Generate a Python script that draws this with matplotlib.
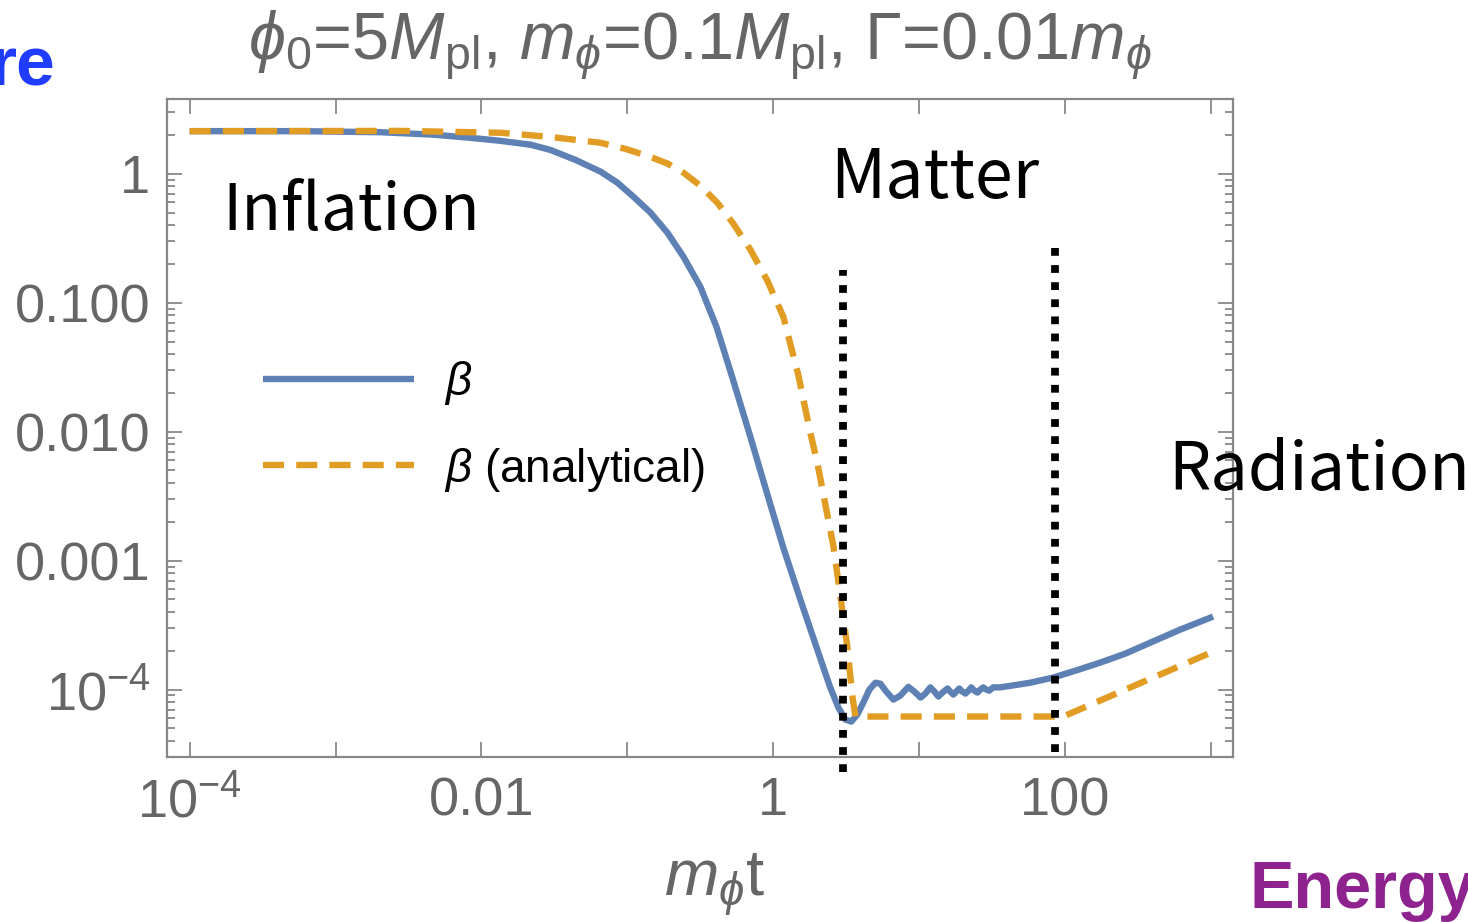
import numpy as np
import matplotlib
matplotlib.use("Agg")
from matplotlib import pyplot as plt
from matplotlib.ticker import FixedLocator, FixedFormatter, LogLocator, NullFormatter, NullLocator

plt.rcParams['font.family'] = ['Liberation Sans', 'DejaVu Sans']
plt.rcParams['mathtext.fontset'] = 'custom'
plt.rcParams['mathtext.rm'] = 'Liberation Sans'
plt.rcParams['mathtext.it'] = 'Liberation Sans:italic'
plt.rcParams['mathtext.bf'] = 'Liberation Sans:bold'

# numerical beta
t_num = [1.0e-4, 5.75e-4, 2.03e-3, 4.69e-3, 8.41e-3, 0.0135, 0.0217, 0.0297, 0.0441, 0.0653,
         0.0855, 0.110, 0.144, 0.188, 0.242, 0.316, 0.407, 0.524, 0.695, 0.910,
         1.17, 1.53, 2.00, 2.45, 2.79, 3.11, 3.42, 3.76, 4.13, 4.55,
         5.00, 5.41, 5.94, 6.64, 7.41, 8.41, 9.25, 10.2, 11.0, 11.9,
         12.7, 13.5, 14.4, 15.6, 16.3, 17.1, 17.9, 18.8, 19.7, 20.7,
         21.7, 22.7, 23.8, 25.0, 26.2, 27.4, 28.8, 30.1, 32.1, 35.9,
         57.5, 82.8, 117, 174, 258, 382, 614, 1030]
beta_num = [2.14, 2.14, 2.10, 2.01, 1.90, 1.80, 1.68, 1.53, 1.28, 1.04,
            0.852, 0.663, 0.499, 0.349, 0.227, 0.133, 0.0652, 0.0262, 9.15e-3, 3.25e-3,
            1.26e-3, 4.99e-4, 2.04e-4, 1.04e-4, 7.25e-5, 5.85e-5, 5.65e-5, 6.40e-5, 7.93e-5, 1.00e-4,
            1.13e-4, 1.11e-4, 9.64e-5, 8.36e-5, 8.98e-5, 1.05e-4, 9.64e-5, 8.67e-5, 9.31e-5, 1.04e-4,
            9.64e-5, 8.83e-5, 9.48e-5, 1.02e-4, 9.64e-5, 9.14e-5, 9.64e-5, 1.02e-4, 9.64e-5, 9.31e-5,
            9.80e-5, 1.04e-4, 9.80e-5, 9.48e-5, 1.00e-4, 1.04e-4, 1.00e-4, 9.80e-5, 1.04e-4, 1.04e-4,
            1.13e-4, 1.24e-4, 1.40e-4, 1.62e-4, 1.90e-4, 2.31e-4, 2.92e-4, 3.68e-4]

# analytical beta
t_ana = [1.0e-4, 2.8e-3, 0.0135, 0.0297, 0.0653, 0.0968, 0.144, 0.188, 0.242, 0.316,
         0.413, 0.532, 0.695, 0.910, 1.17, 1.48, 1.79, 2.00, 2.27, 2.58,
         2.88, 3.21, 3.48, 3.65, 96.8, 1030]
beta_ana = [2.14, 2.15, 2.08, 1.93, 1.74, 1.56, 1.35, 1.20, 1.02, 0.807,
            0.596, 0.410, 0.258, 0.148, 0.0778, 0.0277, 9.82e-3, 5.75e-3, 2.72e-3, 1.29e-3,
            5.26e-4, 2.15e-4, 8.83e-5, 6.18e-5, 6.18e-5, 1.97e-4]

# era boundaries
t_bounds = [3.01, 85.5]
bound_top = [0.18, 0.27]
bound_bottom = [2.3e-5, 3.3e-5]

xticks = [1e-4, 1e-3, 1e-2, 1e-1, 1, 10, 100, 1000]
xticklabels = [r'$10^{-4}$', '', '0.01', '', '1', '', '100', '']
yticks = [1e-4, 1e-3, 1e-2, 1e-1, 1]
yticklabels = [r'$10^{-4}$', '0.001', '0.010', '0.100', '1']

W, H = 1468, 922
def fp(x, y):
    return x / W, 1 - y / H

fig = plt.figure(figsize=(W / 100, H / 100), dpi=100)
ax = fig.add_axes([167 / W, 1 - 757 / H, (1233 - 167) / W, (757 - 99) / H])

gray = '#666666'
ax.plot(t_num, beta_num, color='#5e81b5', lw=4.6, label=r'$\beta$', solid_capstyle='butt')
ax.plot(t_ana, beta_ana, color='#e19c24', lw=4.6, dashes=(3.3, 1.9), label=r'$\beta$ (analytical)')
for tb, top, bot in zip(t_bounds, bound_top, bound_bottom):
    ax.plot([tb, tb], [bot, top], color='black', lw=5.6, dashes=(1, 1.2), clip_on=False, zorder=5)

ax.set_xscale('log')
ax.set_yscale('log')
ax.set_xlim(7.0e-5, 1410)
ax.set_ylim(3.0e-5, 3.8)

ax.xaxis.set_major_locator(FixedLocator(xticks))
ax.xaxis.set_major_formatter(FixedFormatter(xticklabels))
ax.xaxis.set_minor_locator(NullLocator())
ax.yaxis.set_major_locator(FixedLocator(yticks))
ax.yaxis.set_major_formatter(FixedFormatter(yticklabels))
ax.yaxis.set_minor_locator(LogLocator(base=10, subs=np.arange(2, 10)))
ax.yaxis.set_minor_formatter(NullFormatter())

ax.tick_params(which='both', direction='in', top=True, right=True, color='#888888', width=1.3)
ax.tick_params(which='major', length=11, labelsize=39, labelcolor=gray)
ax.tick_params(which='minor', length=6)
ax.tick_params(axis='x', pad=14)
ax.tick_params(axis='y', pad=12)
for s in ax.spines.values():
    s.set_color('#888888')
    s.set_linewidth(1.6)

ax.legend(loc='center left', bbox_to_anchor=(0.09, 0.503), frameon=False, fontsize=33,
          handlelength=3.3, handletextpad=0.65, labelspacing=0.85, borderpad=0, borderaxespad=0)

fig.text(*fp(700, 45), r'$\phi_0$=5$M_{\rm pl}$, $m_\phi$=0.1$M_{\rm pl}$, $\Gamma$=0.01$m_\phi$',
         ha='center', va='center', fontsize=48, color=gray)
fig.text(*fp(715, 885), r'$m_\phi$t', ha='center', va='center', fontsize=47, color=gray)

era_font = ['Noto Sans CJK JP', 'DejaVu Sans']
fig.text(*fp(222, 230), 'Inflation', fontsize=47, family=era_font, va='baseline')
fig.text(*fp(830, 198), 'Matter', fontsize=49, family=era_font, va='baseline')
fig.text(*fp(1168, 490), 'Radiation', fontsize=48, family=era_font, va='baseline')

fig.text(*fp(55, 86), 're', fontsize=50, fontweight='bold', color='#1f3cff', ha='right', va='baseline')
fig.text(*fp(1250, 908), 'Energy', fontsize=48, fontweight='bold', color='#8e2390', va='baseline')

fig.savefig('out.png', dpi=100)
